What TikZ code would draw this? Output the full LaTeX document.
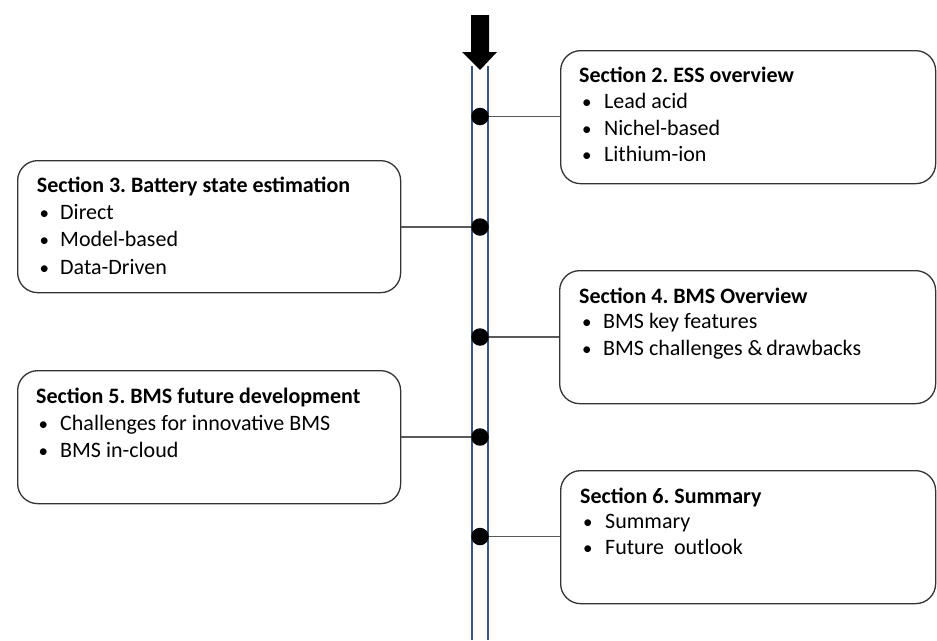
\documentclass[tikz,border=0pt]{standalone}
\usepackage{fontspec}
\setmainfont{Carlito}
\definecolor{tubeblue}{RGB}{62,84,128}
\begin{document}
\frenchspacing
\begin{tikzpicture}[x=1pt,y=-1pt,
  secbox/.style={draw=black!80,line width=1.3pt,rounded corners=20pt,anchor=north west,inner sep=0pt},
  ttl/.style={anchor=base west,inner sep=0pt,font=\fontsize{22}{27}\selectfont\bfseries,text=black},
  itm/.style={anchor=base west,inner sep=0pt,font=\fontsize{22}{27}\selectfont,text=black},
  blt/.style={anchor=base west,inner sep=0pt,font=\fontsize{19}{27}\selectfont,text=black},
  dot/.style={circle,fill=black,inner sep=0pt,minimum size=17.5pt},
  conn/.style={draw=black!65,line width=1.1pt},
  tube/.style={draw=tubeblue,line width=1.5pt}]
\useasboundingbox (0,0) rectangle (937,640);
% timeline tube
\coordinate (tl) at (472,66);
\coordinate (tr) at (488,66);
\coordinate (bl) at (472,640);
\coordinate (br) at (488,640);
\draw[tube] (tl) -- (bl);
\draw[tube] (tr) -- (br);
% arrow
\coordinate (arr) at (480,70);
\fill[black] (471,15) -- (489,15) -- (489,52) -- (497,52) -- (arr) -- (462,52) -- (471,52) -- cycle;
% boxes
\node[secbox,minimum width=375pt,minimum height=133pt] (b2) at (560,50) {};
\node[secbox,minimum width=383pt,minimum height=132pt] (b3) at (17,160) {};
\node[secbox,minimum width=376pt,minimum height=133pt] (b4) at (559,270) {};
\node[secbox,minimum width=383pt,minimum height=133pt] (b5) at (17,370) {};
\node[secbox,minimum width=375pt,minimum height=133pt] (b6) at (560,470) {};
% dots (positions)
\coordinate (d2) at (480,116.5);
\coordinate (d3) at (480,227);
\coordinate (d4) at (480,337);
\coordinate (d5) at (480,437);
\coordinate (d6) at (480,536.5);
% connectors
\draw[conn] (d2) -- (d2 -| b2.west);
\draw[conn] (d3) -- (d3 -| b3.east);
\draw[conn] (d4) -- (d4 -| b4.west);
\draw[conn] (d5) -- (d5 -| b5.east);
\draw[conn] (d6) -- (d6 -| b6.west);
\node[dot] (d2b) at (d2) {};
\node[dot] (d3b) at (d3) {};
\node[dot] (d4b) at (d4) {};
\node[dot] (d5b) at (d5) {};
\node[dot] (d6b) at (d6) {};
% box 2 text
\node[ttl] (t2) at (579,82.7) {Section 2. ESS overview};
\node[blt] (t2a) at (582,108.3) {\textbullet};
\node[itm] (t2b) at (604,108.3) {Lead acid};
\node[blt] (t2c) at (582,135) {\textbullet};
\node[itm] (t2d) at (604,135) {Nichel-based};
\node[blt] (t2e) at (582,161.7) {\textbullet};
\node[itm] (t2f) at (604,161.7) {Lithium-ion};
% box 3 text
\node[ttl] (t3) at (36.7,192.5) {Section 3. Battery state estimation};
\node[blt] (t3a) at (39.5,219) {\textbullet};
\node[itm] (t3b) at (60,219) {Direct};
\node[blt] (t3c) at (39.5,246.5) {\textbullet};
\node[itm] (t3d) at (60,246.5) {Model-based};
\node[blt] (t3e) at (39.5,274) {\textbullet};
\node[itm] (t3f) at (60,274) {Data-Driven};
% box 4 text
\node[ttl] (t4) at (579,303) {Section 4. BMS Overview};
\node[blt] (t4a) at (582,328.5) {\textbullet};
\node[itm] (t4b) at (603,328.5) {BMS key features};
\node[blt] (t4c) at (582,355) {\textbullet};
\node[itm] (t4d) at (603,355) {BMS challenges \&\,drawbacks};
% box 5 text
\node[ttl] (t5) at (36,403) {Section 5. BMS future development};
\node[blt] (t5a) at (38.5,430) {\textbullet};
\node[itm] (t5b) at (60,430) {Challenges for innovative BMS};
\node[blt] (t5c) at (38.5,457) {\textbullet};
\node[itm] (t5d) at (60,457) {BMS in-cloud};
% box 6 text
\node[ttl] (t6) at (580,503) {Section 6. Summary};
\node[blt] (t6a) at (583,528.5) {\textbullet};
\node[itm] (t6b) at (605,528.5) {Summary};
\node[blt] (t6c) at (583,554.5) {\textbullet};
\node[itm] (t6d) at (605,554.5) {Future\ \ outlook};
\end{tikzpicture}
\end{document}
